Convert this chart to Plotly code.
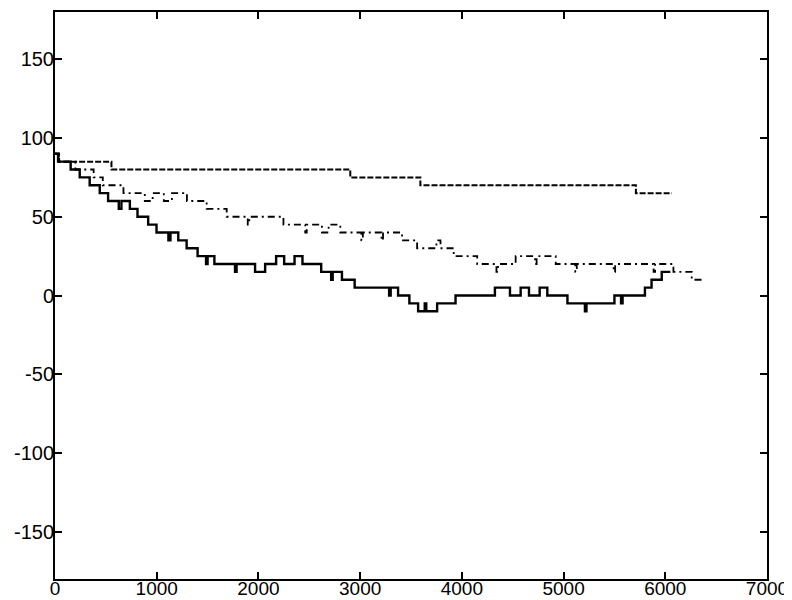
import plotly.graph_objects as go

# Solid series (step breakpoints)
solid_x = [0, 30, 154, 243, 341, 440, 522, 627, 653, 736,
           811, 916, 998, 1115, 1135, 1212, 1294, 1402, 1485, 1500,
           1567, 1770, 1785, 1967, 2066, 2174, 2253, 2355, 2433, 2617,
           2715, 2730, 2821, 2946, 3285, 3300, 3373, 3484, 3570, 3635,
           3650, 3757, 3938, 4325, 4473, 4578, 4660, 4765, 4840, 5038,
           5210, 5225, 5500, 5565, 5580, 5800, 5865, 5965, 6050]
solid_y = [90, 85, 80, 75, 70, 65, 60, 55, 60, 55,
           50, 45, 40, 35, 40, 35, 30, 25, 20, 25,
           20, 15, 20, 15, 20, 25, 20, 25, 20, 15,
           10, 15, 10, 5, 0, 5, 0, -5, -10, -5,
           -10, -5, 0, 5, 0, 5, 0, 5, 0, -5,
           -10, -5, 0, -5, 0, 5, 10, 15, 15]

# Dashed series
dashed_x = [0, 40, 555, 2903, 3592, 5711, 6066]
dashed_y = [90, 85, 80, 75, 70, 65, 65]

# Dash-dot series
dashdot_x = [0, 40, 200, 380, 470, 673, 883, 960, 1070, 1150,
             1297, 1491, 1688, 1895, 1910, 2246, 2460, 2475, 2624, 2690,
             2805, 3012, 3027, 3210, 3225, 3412, 3560, 3750, 3790, 3920,
             4151, 4340, 4355, 4529, 4720, 4735, 4923, 5115, 5130, 5492,
             5507, 5885, 5900, 6080, 6260, 6384]
dashdot_y = [90, 85, 80, 75, 70, 65, 60, 65, 60, 65,
             60, 55, 50, 45, 50, 45, 40, 45, 40, 45,
             40, 35, 40, 35, 40, 35, 30, 35, 30, 25,
             20, 15, 20, 25, 20, 25, 20, 15, 20, 15,
             20, 15, 20, 15, 10, 10]

x_ticks = [0, 1000, 2000, 3000, 4000, 5000, 6000, 7000]
x_ticktext = ["0", "1000", "2000", "3000", "4000", "5000", "6000", "7000"]
y_ticks = [-150, -100, -50, 0, 50, 100, 150]
y_ticktext = ["-150", "-100", "-50", "0", "50", "100", "150"]

fig = go.Figure()
fig.add_trace(go.Scatter(x=dashed_x, y=dashed_y, mode="lines", line_shape="hv",
                         line=dict(color="black", width=2, dash="6px,2px")))
fig.add_trace(go.Scatter(x=dashdot_x, y=dashdot_y, mode="lines", line_shape="hv",
                         line=dict(color="black", width=1.8, dash="7px,4px,2px,4px")))
fig.add_trace(go.Scatter(x=solid_x, y=solid_y, mode="lines", line_shape="hv",
                         line=dict(color="black", width=2.4)))

axis_common = dict(showline=True, linecolor="black", linewidth=2, mirror="ticks",
                   ticks="inside", ticklen=7, tickwidth=1.5, tickcolor="black",
                   showgrid=False, zeroline=False, automargin=False)

font_x = dict(family="Liberation Sans, Arial, sans-serif", size=19, color="black")
font_y = dict(family="Liberation Sans, Arial, sans-serif", size=20, color="black")

# The page body adds an 8px offset, so the figure is sized to fit the window.
fig.update_layout(
    width=784, height=592,
    margin=dict(l=47, r=25, t=4, b=21),
    paper_bgcolor="white", plot_bgcolor="white",
    showlegend=False,
    xaxis=dict(range=[0, 7000], tickvals=x_ticks, ticktext=x_ticktext,
               ticklabelstandoff=-9, tickfont=font_x, **axis_common),
    yaxis=dict(range=[-180, 180], tickvals=y_ticks, ticktext=y_ticktext,
               ticklabelstandoff=-5, tickfont=font_y, **axis_common),
)

fig.write_html("out.html")
